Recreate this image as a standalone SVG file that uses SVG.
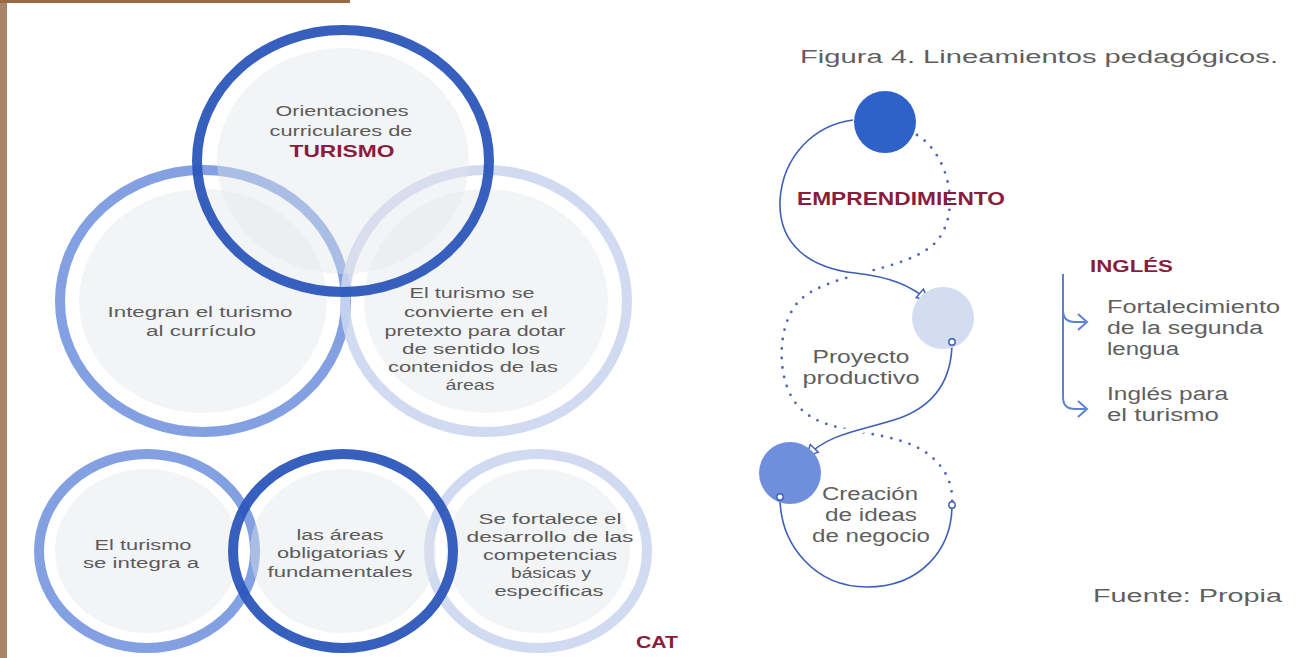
<svg xmlns="http://www.w3.org/2000/svg" width="1314" height="658" viewBox="0 0 1314 658">
<defs>
<style>
.t{font-family:"Liberation Sans","DejaVu Sans",sans-serif;fill:#5b5b5b;text-anchor:middle;font-size:15.5px}
.tl{font-family:"Liberation Sans","DejaVu Sans",sans-serif;fill:#5f5f5f;font-size:18px}
.b{font-family:"Liberation Sans","DejaVu Sans",sans-serif;font-weight:bold;fill:#8a1c3c}
.disk{fill:#e2e5ea;fill-opacity:0.42}
.ring{fill:none;stroke-width:10}
.dark{stroke:#2b56ba}
.mid{stroke:#7b9be0}
.light{stroke:#cbd6f0}
.flow{fill:none;stroke:#3d5fb8;stroke-width:1.6}
.dots{fill:none;stroke:#4a66b4;stroke-width:2.8;stroke-linecap:round;stroke-dasharray:0 9.5}
.end{fill:#fff;stroke:#3d5fb8;stroke-width:1.4}
.br{fill:none;stroke:#5e82d2;stroke-width:2}
</style>
<marker id="tri" markerWidth="16" markerHeight="16" refX="13" refY="7" orient="auto" markerUnits="userSpaceOnUse">
<path d="M1,1.5 L13,7 L1,12.5 Z" fill="#fff" stroke="#3d5fb8" stroke-width="1.5"/>
</marker>
</defs>
<rect width="1314" height="658" fill="#fff"/>
<rect x="0" y="0" width="7" height="658" fill="#a88468"/>
<rect x="0" y="0" width="350" height="3" fill="#9a6a45"/>

<g id="circle-integran">
<ellipse class="disk" cx="203" cy="301" rx="124" ry="112"/>
<ellipse class="ring mid" cx="203" cy="301" rx="143" ry="131" stroke-opacity="0.95"/>
<text class="t" x="200" y="317" textLength="185" lengthAdjust="spacingAndGlyphs">Integran el turismo</text>
<text class="t" x="201" y="336" textLength="110" lengthAdjust="spacingAndGlyphs">al currículo</text>
</g>
<g id="circle-pretexto">
<ellipse class="disk" cx="486" cy="301" rx="122" ry="112"/>
<ellipse class="ring light" cx="486" cy="301" rx="141" ry="131" stroke-opacity="0.9"/>
<text class="t" x="472" y="298" textLength="125" lengthAdjust="spacingAndGlyphs">El turismo se</text>
<text class="t" x="476" y="317" textLength="144" lengthAdjust="spacingAndGlyphs">convierte en  el</text>
<text class="t" x="475" y="336" textLength="181" lengthAdjust="spacingAndGlyphs">pretexto para dotar</text>
<text class="t" x="471" y="354" textLength="138" lengthAdjust="spacingAndGlyphs">de sentido los</text>
<text class="t" x="473" y="372" textLength="170" lengthAdjust="spacingAndGlyphs">contenidos de las</text>
<text class="t" x="470" y="390" textLength="49" lengthAdjust="spacingAndGlyphs">áreas</text>
</g>
<g id="circle-orientaciones">
<ellipse class="disk" cx="343" cy="161" rx="126" ry="113"/>
<ellipse class="ring dark" cx="343" cy="161" rx="146" ry="131" stroke-opacity="0.95"/>
<text class="t" x="342" y="116" textLength="133" lengthAdjust="spacingAndGlyphs">Orientaciones</text>
<text class="t" x="341" y="136" textLength="143" lengthAdjust="spacingAndGlyphs">curriculares de</text>
<text class="b" x="342" y="157" font-size="17" text-anchor="middle" textLength="105" lengthAdjust="spacingAndGlyphs">TURISMO</text>
</g>

<g id="circle-integra">
<ellipse class="disk" cx="147" cy="551" rx="92" ry="82"/>
<ellipse class="ring mid" cx="147" cy="551" rx="108" ry="97" stroke-opacity="0.95"/>
<text class="t" x="143" y="550" textLength="97" lengthAdjust="spacingAndGlyphs">El turismo</text>
<text class="t" x="141" y="568" textLength="116" lengthAdjust="spacingAndGlyphs">se integra a</text>
</g>
<g id="circle-competencias">
<ellipse class="disk" cx="538" cy="551" rx="92" ry="82"/>
<ellipse class="ring light" cx="538" cy="551" rx="109" ry="97" stroke-opacity="0.9"/>
<text class="t" x="550" y="524" textLength="143" lengthAdjust="spacingAndGlyphs">Se fortalece el</text>
<text class="t" x="550" y="542" textLength="167" lengthAdjust="spacingAndGlyphs">desarrollo de las</text>
<text class="t" x="550" y="560" textLength="134" lengthAdjust="spacingAndGlyphs">competencias</text>
<text class="t" x="551" y="578" textLength="80" lengthAdjust="spacingAndGlyphs">básicas y</text>
<text class="t" x="549" y="596" textLength="109" lengthAdjust="spacingAndGlyphs">específicas</text>
</g>
<g id="circle-areas">
<ellipse class="disk" cx="343" cy="551" rx="93" ry="82"/>
<ellipse class="ring dark" cx="343" cy="551" rx="110" ry="97" stroke-opacity="0.95"/>
<text class="t" x="340" y="540" textLength="87" lengthAdjust="spacingAndGlyphs">las áreas</text>
<text class="t" x="341" y="558" textLength="128" lengthAdjust="spacingAndGlyphs">obligatorias y</text>
<text class="t" x="340" y="577" textLength="145" lengthAdjust="spacingAndGlyphs">fundamentales</text>
</g>
<g id="label-cat">
<text class="b" x="636" y="648" font-size="17" textLength="42" lengthAdjust="spacingAndGlyphs">CAT</text>
</g>

<g id="title">
<text class="tl" x="800" y="63" font-size="22" textLength="478" lengthAdjust="spacingAndGlyphs">Figura 4. Lineamientos pedagógicos.</text>
</g>
<g id="source">
<text class="tl" x="1093" y="602" font-size="22" textLength="189" lengthAdjust="spacingAndGlyphs">Fuente: Propia</text>
</g>

<g id="connectors">
<path class="dots" d="M917,135 C950,155 962,215 935,243 C905,272 830,272 800,300 C775,325 776,385 800,408 C830,440 900,425 935,460 C950,475 953,490 952,505"/>
<path d="M853,120 C815,125 783,155 780,200 C778,245 810,268 855,273 C890,277 910,285 926,298" fill="none" stroke="#fff" stroke-width="9"/>
<path d="M952,342 C952,380 935,405 900,418 C865,430 830,432 810,452" fill="none" stroke="#fff" stroke-width="9"/>
<path class="flow" d="M853,120 C815,125 783,155 780,200 C778,245 810,268 855,273 C890,277 910,285 929,301" marker-end="url(#tri)"/>
<path class="flow" d="M952,342 C952,380 935,405 900,418 C865,430 830,432 806,457" marker-end="url(#tri)"/>
<path class="flow" d="M780,497 C780,545 815,587 867,587 C920,587 952,550 952,505"/>
<path class="br" d="M1063,274 V397 Q1063,409 1075,409 H1085"/>
<path class="br" d="M1063,310 Q1063,322 1075,322 H1085"/>
<path class="br" d="M1078,314 L1087,322 L1078,330"/>
<path class="br" d="M1078,401 L1087,409 L1078,417"/>
</g>

<g id="node-emprendimiento">
<circle cx="885" cy="122" r="31" fill="#2f62c8"/>
<text class="b" x="797" y="205" font-size="18" textLength="208" lengthAdjust="spacingAndGlyphs">EMPRENDIMIENTO</text>
</g>
<g id="node-proyecto">
<circle cx="943" cy="318" r="31" fill="#d3ddf2"/>
<circle class="end" cx="952" cy="342" r="3.2"/>
<text class="tl" x="861" y="363" text-anchor="middle" textLength="97" lengthAdjust="spacingAndGlyphs">Proyecto</text>
<text class="tl" x="861" y="384" text-anchor="middle" textLength="117" lengthAdjust="spacingAndGlyphs">productivo</text>
</g>
<g id="node-creacion">
<circle cx="790" cy="473" r="31" fill="#6f8fdc"/>
<circle class="end" cx="780" cy="497" r="3.2"/>
<circle class="end" cx="952" cy="505" r="3.2"/>
<text class="tl" x="870" y="500" text-anchor="middle" textLength="96" lengthAdjust="spacingAndGlyphs">Creación</text>
<text class="tl" x="871" y="521" text-anchor="middle" textLength="92" lengthAdjust="spacingAndGlyphs">de ideas</text>
<text class="tl" x="871" y="542" text-anchor="middle" textLength="118" lengthAdjust="spacingAndGlyphs">de negocio</text>
</g>
<g id="node-ingles">
<text class="b" x="1090" y="272" font-size="17" textLength="83" lengthAdjust="spacingAndGlyphs">INGLÉS</text>
<text class="tl" x="1107" y="313" textLength="173" lengthAdjust="spacingAndGlyphs">Fortalecimiento</text>
<text class="tl" x="1107" y="334" textLength="156" lengthAdjust="spacingAndGlyphs">de la segunda</text>
<text class="tl" x="1107" y="355" textLength="72" lengthAdjust="spacingAndGlyphs">lengua</text>
<text class="tl" x="1107" y="400" textLength="121" lengthAdjust="spacingAndGlyphs">Inglés para</text>
<text class="tl" x="1107" y="421" textLength="112" lengthAdjust="spacingAndGlyphs">el turismo</text>
</g>
</svg>
